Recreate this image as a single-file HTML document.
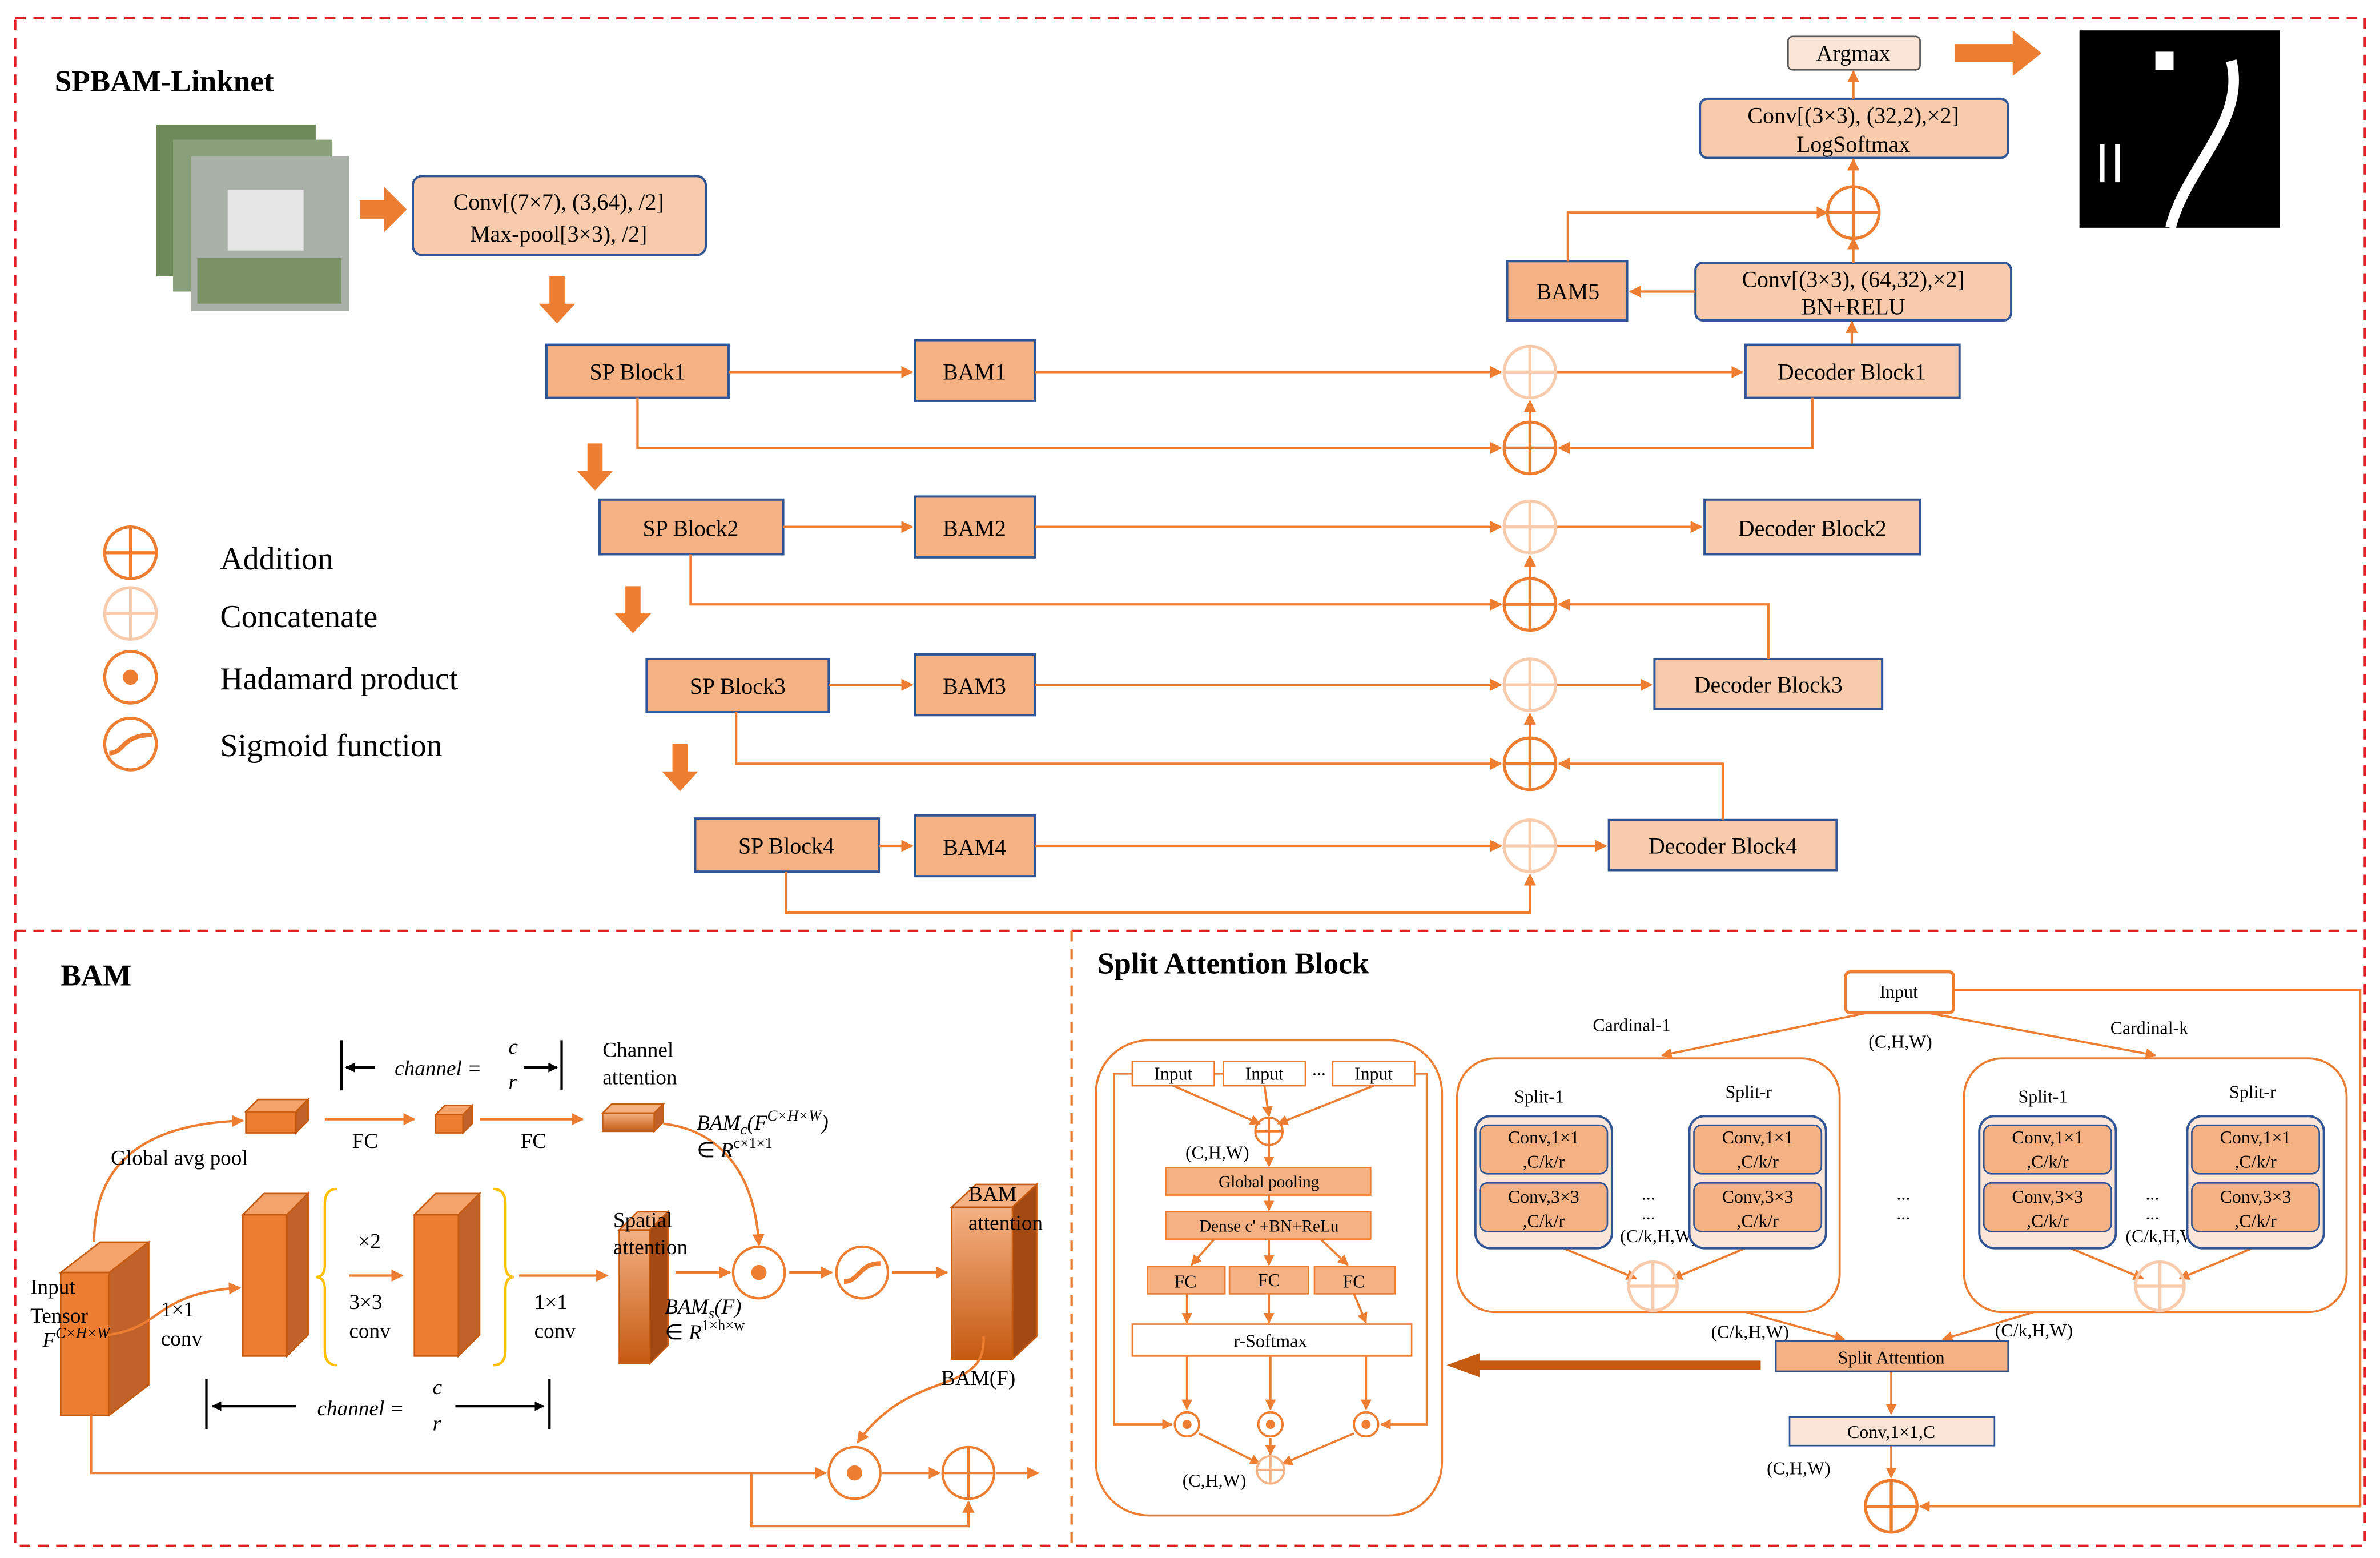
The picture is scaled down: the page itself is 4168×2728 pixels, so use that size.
<!DOCTYPE html>
<html><head><meta charset="utf-8"><style>
html,body{margin:0;padding:0;background:#fff;}
svg{display:block;}
text{font-family:"Liberation Serif",serif;fill:#000;}
</style></head><body>
<svg width="4168" height="2728" viewBox="0 0 1568 1026" preserveAspectRatio="none" xmlns="http://www.w3.org/2000/svg">
<defs>
<marker id="a" viewBox="0 0 10 10" refX="9" refY="5" markerWidth="5" markerHeight="5" orient="auto"><path d="M0,0 L10,5 L0,10 z" fill="#ed7d31"/></marker>
<marker id="k" viewBox="0 0 10 10" refX="9" refY="5" markerWidth="4" markerHeight="4" orient="auto"><path d="M0,0 L10,5 L0,10 z" fill="#000"/></marker>
<linearGradient id="g1" x1="0" y1="0" x2="0" y2="1"><stop offset="0" stop-color="#f4b183"/><stop offset="1" stop-color="#c55a11"/></linearGradient>
</defs>
<rect width="1568" height="1026" fill="#fff"/>
<!-- dashed frames -->
<g fill="none" stroke="#e02020" stroke-width="1.6" stroke-dasharray="7,5">
<rect x="10" y="12" width="1548" height="1006"/>
<line x1="10" y1="613" x2="1558" y2="613"/>
</g>
<line x1="706" y1="613" x2="706" y2="1018" stroke="#ed7d31" stroke-width="1.6" stroke-dasharray="7,5"/>

<text x="36" y="60" font-size="20" font-weight="bold">SPBAM-Linknet</text>
<!-- input images -->
<rect x="103" y="82" width="105" height="100" fill="#6f8a5a"/>
<rect x="114" y="92" width="105" height="100" fill="#8aa07a"/>
<rect x="126" y="103" width="104" height="102" fill="#a9b0a8"/>
<rect x="150" y="125" width="50" height="40" fill="#e6e6e6"/>
<rect x="130" y="170" width="95" height="30" fill="#7b9166"/>
<!-- big arrows -->
<path d="M237,132 h16 v-9 l15,15 l-15,15 v-9 h-16z" fill="#ed7d31"/>
<path d="M1288,29 h38 v-9 l19,15 l-19,15 v-9 h-38z" fill="#ed7d31"/>
<g fill="#ed7d31">
<path d="M362,182 h10 v18 h7 l-12,13 l-12,-13 h7z"/>
<path d="M387,292 h10 v18 h7 l-12,13 l-12,-13 h7z"/>
<path d="M412,386 h10 v18 h7 l-12,13 l-12,-13 h7z"/>
<path d="M443,490 h10 v18 h7 l-12,13 l-12,-13 h7z"/>
</g>
<!-- output -->
<rect x="1370" y="20" width="132" height="130" fill="#000"/>
<path d="M1470,40 C1480,80 1440,110 1430,150" stroke="#fff" stroke-width="7" fill="none"/>
<rect x="1420" y="34" width="12" height="12" fill="#fff"/>
<path d="M1385,95 v25 M1395,95 v25" stroke="#fff" stroke-width="3"/>

<g font-size="15" text-anchor="middle">
<rect x="272" y="116" width="193" height="52" rx="6" fill="#f8cbad" stroke="#2f5597" stroke-width="1.5"/>
<text x="368" y="138">Conv[(7×7), (3,64), /2]</text><text x="368" y="159">Max-pool[3×3), /2]</text>
<rect x="1120" y="65" width="203" height="39" rx="5" fill="#f8cbad" stroke="#2f5597" stroke-width="1.5"/>
<text x="1221" y="81">Conv[(3×3), (32,2),×2]</text><text x="1221" y="100">LogSoftmax</text>
<rect x="1178" y="24" width="87" height="22" rx="3" fill="#fbe5d6" stroke="#555" stroke-width="1"/>
<text x="1221" y="40">Argmax</text>
<rect x="1117" y="173" width="208" height="38" rx="5" fill="#f8cbad" stroke="#2f5597" stroke-width="1.5"/>
<text x="1221" y="189">Conv[(3×3), (64,32),×2]</text><text x="1221" y="207">BN+RELU</text>
<rect x="993" y="172" width="79" height="39" fill="#f4b183" stroke="#2f5597" stroke-width="1.5"/><text x="1033" y="197">BAM5</text>
</g>
<g fill="none" stroke="#ed7d31" stroke-width="1.6">
<line x1="1221" y1="65" x2="1221" y2="47" marker-end="url(#a)"/>
<line x1="1221" y1="123" x2="1221" y2="105" marker-end="url(#a)"/>
<line x1="1221" y1="173" x2="1221" y2="157" marker-end="url(#a)"/>
<polyline points="1033,172 1033,140 1204,140" marker-end="url(#a)"/>
<line x1="1117" y1="192" x2="1074" y2="192" marker-end="url(#a)"/>
<line x1="1220" y1="227" x2="1220" y2="212" marker-end="url(#a)"/>
<circle cx="1221" cy="140" r="17" stroke-width="2"/><path d="M1221,123 v34 M1204,140 h34" stroke-width="2"/>
</g>

<!-- main rows -->
<g font-size="15" text-anchor="middle" stroke-width="1.5">
<rect x="360" y="227" width="120" height="35" fill="#f4b183" stroke="#2f5597"/><text x="420" y="250">SP Block1</text>
<rect x="395" y="329" width="121" height="36" fill="#f4b183" stroke="#2f5597"/><text x="455" y="353">SP Block2</text>
<rect x="426" y="434" width="120" height="35" fill="#f4b183" stroke="#2f5597"/><text x="486" y="457">SP Block3</text>
<rect x="458" y="539" width="121" height="35" fill="#f4b183" stroke="#2f5597"/><text x="518" y="562">SP Block4</text>
<rect x="603" y="224" width="79" height="40" fill="#f4b183" stroke="#2f5597"/><text x="642" y="250">BAM1</text>
<rect x="603" y="327" width="79" height="40" fill="#f4b183" stroke="#2f5597"/><text x="642" y="353">BAM2</text>
<rect x="603" y="431" width="79" height="40" fill="#f4b183" stroke="#2f5597"/><text x="642" y="457">BAM3</text>
<rect x="603" y="537" width="79" height="40" fill="#f4b183" stroke="#2f5597"/><text x="642" y="563">BAM4</text>
<rect x="1150" y="227" width="141" height="35" fill="#f8cbad" stroke="#2f5597"/><text x="1220" y="250">Decoder Block1</text>
<rect x="1123" y="329" width="142" height="36" fill="#f8cbad" stroke="#2f5597"/><text x="1194" y="353">Decoder Block2</text>
<rect x="1090" y="434" width="150" height="33" fill="#f8cbad" stroke="#2f5597"/><text x="1165" y="456">Decoder Block3</text>
<rect x="1060" y="540" width="150" height="33" fill="#f8cbad" stroke="#2f5597"/><text x="1135" y="562">Decoder Block4</text>
</g>
<g fill="none" stroke="#ed7d31" stroke-width="1.6">
<line x1="480" y1="245" x2="601" y2="245" marker-end="url(#a)"/>
<line x1="516" y1="347" x2="601" y2="347" marker-end="url(#a)"/>
<line x1="546" y1="451" x2="601" y2="451" marker-end="url(#a)"/>
<line x1="579" y1="557" x2="601" y2="557" marker-end="url(#a)"/>
<line x1="682" y1="245" x2="989" y2="245" marker-end="url(#a)"/>
<line x1="682" y1="347" x2="989" y2="347" marker-end="url(#a)"/>
<line x1="682" y1="451" x2="989" y2="451" marker-end="url(#a)"/>
<line x1="682" y1="557" x2="989" y2="557" marker-end="url(#a)"/>
<line x1="1025" y1="245" x2="1148" y2="245" marker-end="url(#a)"/>
<line x1="1025" y1="347" x2="1121" y2="347" marker-end="url(#a)"/>
<line x1="1025" y1="451" x2="1088" y2="451" marker-end="url(#a)"/>
<line x1="1025" y1="557" x2="1058" y2="557" marker-end="url(#a)"/>
<polyline points="420,262 420,295 989,295" marker-end="url(#a)"/>
<polyline points="455,365 455,398 989,398" marker-end="url(#a)"/>
<polyline points="485,469 485,503 989,503" marker-end="url(#a)"/>
<polyline points="518,574 518,601 1008,601 1008,576" marker-end="url(#a)"/>
<polyline points="1194,262 1194,295 1027,295" marker-end="url(#a)"/>
<polyline points="1165,434 1165,398 1027,398" marker-end="url(#a)"/>
<polyline points="1135,540 1135,503 1027,503" marker-end="url(#a)"/>
<line x1="1008" y1="278" x2="1008" y2="264" marker-end="url(#a)"/>
<line x1="1008" y1="381" x2="1008" y2="366" marker-end="url(#a)"/>
<line x1="1008" y1="486" x2="1008" y2="470" marker-end="url(#a)"/>
<g stroke-width="2">
<circle cx="1008" cy="295" r="17"/><path d="M1008,278 v34 M991,295 h34"/>
<circle cx="1008" cy="398" r="17"/><path d="M1008,381 v34 M991,398 h34"/>
<circle cx="1008" cy="503" r="17"/><path d="M1008,486 v34 M991,503 h34"/>
</g>
<g stroke="#f8cbad" stroke-width="2">
<circle cx="1008" cy="245" r="17"/><path d="M1008,228 v34 M991,245 h34"/>
<circle cx="1008" cy="347" r="17"/><path d="M1008,330 v34 M991,347 h34"/>
<circle cx="1008" cy="451" r="17"/><path d="M1008,434 v34 M991,451 h34"/>
<circle cx="1008" cy="557" r="17"/><path d="M1008,540 v34 M991,557 h34"/>
</g>
</g>
<!-- legend -->
<g fill="none" stroke-width="2">
<circle cx="86" cy="364" r="17" stroke="#ed7d31"/><path d="M86,347 v34 M69,364 h34" stroke="#ed7d31"/>
<circle cx="86" cy="404" r="17" stroke="#f8cbad"/><path d="M86,387 v34 M69,404 h34" stroke="#f8cbad"/>
<circle cx="86" cy="446" r="17" stroke="#ed7d31"/><circle cx="86" cy="446" r="5" fill="#ed7d31" stroke="none"/>
<circle cx="86" cy="490" r="17" stroke="#ed7d31"/><path d="M72,496 C82,496 80,484 100,484" stroke="#ed7d31" stroke-width="3"/>
</g>
<g font-size="21"><text x="145" y="375">Addition</text><text x="145" y="413">Concatenate</text><text x="145" y="454">Hadamard product</text><text x="145" y="498">Sigmoid function</text></g>

<!-- BAM -->
<text x="40" y="649" font-size="20" font-weight="bold">BAM</text>
<g stroke="#c55a11" stroke-width="1">
<!-- input tensor -->
<polygon points="40,838 66,818 98,818 72,838" fill="#f4a36b"/><polygon points="72,838 98,818 98,912 72,932" fill="#c0622a"/><rect x="40" y="838" width="32" height="94" fill="#ed7d31"/>
<polygon points="162,732 170,724 203,724 195,732" fill="#f4a36b"/><polygon points="195,732 203,724 203,738 195,746" fill="#c0622a"/><rect x="162" y="732" width="33" height="14" fill="#ed7d31"/>
<polygon points="287,734 293,728 311,728 305,734" fill="#f4a36b"/><polygon points="305,734 311,728 311,740 305,746" fill="#c0622a"/><rect x="287" y="734" width="18" height="12" fill="#ed7d31"/>
<polygon points="397,733 403,727 437,727 431,733" fill="#f4b183"/><polygon points="431,733 437,727 437,739 431,745" fill="#c0622a"/><rect x="397" y="733" width="34" height="12" fill="url(#g1)"/>
<polygon points="160,800 174,786 203,786 189,800" fill="#f4a36b"/><polygon points="189,800 203,786 203,879 189,893" fill="#c0622a"/><rect x="160" y="800" width="29" height="93" fill="#ed7d31"/>
<polygon points="273,800 287,786 316,786 302,800" fill="#f4a36b"/><polygon points="302,800 316,786 316,879 302,893" fill="#c0622a"/><rect x="273" y="800" width="29" height="93" fill="#ed7d31"/>
<polygon points="408,810 420,798 440,798 428,810" fill="#f4b183"/><polygon points="428,810 440,798 440,886 428,898" fill="#a34a14"/><rect x="408" y="810" width="20" height="88" fill="url(#g1)"/>
<polygon points="627,795 643,780 683,780 667,795" fill="#f4b183"/><polygon points="667,795 683,780 683,880 667,895" fill="#a34a14"/><rect x="627" y="795" width="40" height="100" fill="url(#g1)"/>
</g>
<g fill="none" stroke="#ffc000" stroke-width="1.6">
<path d="M222,783 q-8,0 -8,10 v40 q0,8 -6,8 q6,0 6,8 v40 q0,10 8,10"/>
<path d="M325,783 q8,0 8,10 v40 q0,8 6,8 q-6,0 -6,8 v40 q0,10 -8,10"/>
</g>
<g fill="none" stroke="#ed7d31" stroke-width="1.6">
<path d="M62,818 C62,770 90,740 160,738" marker-end="url(#a)"/>
<path d="M56,880 C110,880 95,852 158,848" marker-end="url(#a)"/>
<line x1="214" y1="737" x2="273" y2="737" marker-end="url(#a)"/>
<line x1="316" y1="737" x2="384" y2="737" marker-end="url(#a)"/>
<line x1="230" y1="840" x2="265" y2="840" marker-end="url(#a)"/>
<line x1="342" y1="840" x2="400" y2="840" marker-end="url(#a)"/>
<path d="M437,740 C480,745 498,780 500,820" marker-end="url(#a)"/>
<line x1="445" y1="838" x2="481" y2="838" marker-end="url(#a)"/>
<line x1="520" y1="838" x2="548" y2="838" marker-end="url(#a)"/>
<line x1="588" y1="838" x2="624" y2="838" marker-end="url(#a)"/>
<circle cx="500" cy="838" r="17"/><circle cx="568" cy="838" r="17"/>
<path d="M556,844 C566,844 566,832 580,832" stroke-width="3"/>
<path d="M648,880 C650,920 600,900 565,950" marker-end="url(#a)"/>
<polyline points="60,932 60,970 544,970" marker-end="url(#a)"/>
<circle cx="563" cy="970" r="17"/><circle cx="638" cy="970" r="17"/><path d="M638,953 v34 M621,970 h34"/>
<line x1="581" y1="970" x2="619" y2="970" marker-end="url(#a)"/>
<line x1="656" y1="970" x2="684" y2="970" marker-end="url(#a)"/>
<polyline points="495,970 495,1005 638,1005 638,989" marker-end="url(#a)"/>
</g>
<circle cx="500" cy="838" r="5" fill="#ed7d31"/><circle cx="563" cy="970" r="5" fill="#ed7d31"/>
<g stroke="#000" stroke-width="1.6" fill="none">
<path d="M225,685 v33 M370,685 v33 M136,908 v33 M362,908 v33"/>
<line x1="247" y1="703" x2="228" y2="703" marker-end="url(#k)"/>
<line x1="345" y1="703" x2="367" y2="703" marker-end="url(#k)"/>
<line x1="195" y1="926" x2="140" y2="926" marker-end="url(#k)"/>
<line x1="300" y1="926" x2="358" y2="926" marker-end="url(#k)"/>
</g>
<g font-size="14">
<text x="260" y="708" font-style="italic">channel = </text><text x="335" y="694" font-style="italic">c</text><text x="335" y="717" font-style="italic">r</text>
<text x="209" y="932" font-style="italic">channel = </text><text x="285" y="918" font-style="italic">c</text><text x="285" y="942" font-style="italic">r</text>
<text x="397" y="696">Channel</text><text x="397" y="714">attention</text>
<text x="73" y="767">Global avg  pool</text>
<text x="232" y="756">FC</text><text x="343" y="756">FC</text>
<text x="236" y="822">×2</text><text x="230" y="862">3×3</text><text x="230" y="881">conv</text>
<text x="352" y="862">1×1</text><text x="352" y="881">conv</text>
<text x="106" y="867">1×1</text><text x="106" y="886">conv</text>
<text x="20" y="852">Input</text><text x="20" y="871">Tensor</text><text x="28" y="887" font-style="italic">F<tspan font-size="10" dy="-6">C×H×W</tspan></text>
<text x="404" y="808">Spatial</text><text x="404" y="826">attention</text>
<text x="459" y="744" font-style="italic">BAM<tspan font-size="10" dy="3">c</tspan><tspan dy="-3">(F</tspan><tspan font-size="10" dy="-6">C×H×W</tspan><tspan dy="6">)</tspan></text>
<text x="459" y="762">∈ <tspan font-style="italic">R</tspan><tspan font-size="10" dy="-6">c×1×1</tspan></text>
<text x="438" y="865" font-style="italic">BAM<tspan font-size="10" dy="3">s</tspan><tspan dy="-3">(F)</tspan></text>
<text x="438" y="882">∈ <tspan font-style="italic">R</tspan><tspan font-size="10" dy="-6">1×h×w</tspan></text>
<text x="638" y="791">BAM</text><text x="638" y="810">attention</text>
<text x="620" y="912">BAM(F)</text>
</g>

<!-- Split attention -->
<text x="723" y="641" font-size="20" font-weight="bold">Split Attention Block</text>
<g fill="none" stroke="#ed7d31" stroke-width="1.4">
<rect x="722" y="685" width="228" height="313" rx="35"/>
<rect x="960" y="697" width="252" height="167" rx="25"/>
<rect x="1294" y="697" width="252" height="167" rx="25"/>
<polyline points="1287,652 1555,652 1555,992 1265,992" marker-end="url(#a)"/>
<line x1="1230" y1="667" x2="1095" y2="695" marker-end="url(#a)"/>
<line x1="1270" y1="667" x2="1420" y2="695" marker-end="url(#a)"/>
<line x1="1150" y1="864" x2="1215" y2="882" marker-end="url(#a)"/>
<line x1="1340" y1="864" x2="1280" y2="882" marker-end="url(#a)"/>
<line x1="1246" y1="903" x2="1246" y2="931" marker-end="url(#a)"/>
<line x1="1246" y1="952" x2="1246" y2="973" marker-end="url(#a)"/>
<circle cx="1246" cy="992" r="17" stroke-width="2"/><path d="M1246,975 v34 M1229,992 h34" stroke-width="2"/>
<!-- left panel -->
<line x1="773" y1="715" x2="830" y2="740" marker-end="url(#a)"/>
<line x1="833" y1="715" x2="836" y2="735" marker-end="url(#a)"/>
<line x1="905" y1="715" x2="842" y2="740" marker-end="url(#a)"/>
<line x1="836" y1="754" x2="836" y2="768" marker-end="url(#a)"/>
<line x1="836" y1="787" x2="836" y2="797" marker-end="url(#a)"/>
<line x1="800" y1="816" x2="785" y2="833" marker-end="url(#a)"/>
<line x1="836" y1="816" x2="836" y2="833" marker-end="url(#a)"/>
<line x1="870" y1="816" x2="888" y2="833" marker-end="url(#a)"/>
<line x1="782" y1="852" x2="782" y2="871" marker-end="url(#a)"/>
<line x1="836" y1="852" x2="836" y2="871" marker-end="url(#a)"/>
<line x1="892" y1="852" x2="900" y2="871" marker-end="url(#a)"/>
<line x1="782" y1="893" x2="782" y2="928" marker-end="url(#a)"/>
<line x1="837" y1="893" x2="837" y2="928" marker-end="url(#a)"/>
<line x1="900" y1="893" x2="900" y2="928" marker-end="url(#a)"/>
<polyline points="746,707 734,707 734,938 772,938" marker-end="url(#a)"/>
<polyline points="932,707 940,707 940,938 910,938" marker-end="url(#a)"/>
<polyline points="806,707 798,707" />
<line x1="790" y1="944" x2="830" y2="964" marker-end="url(#a)"/>
<line x1="837" y1="947" x2="837" y2="958" marker-end="url(#a)"/>
<line x1="892" y1="944" x2="845" y2="964" marker-end="url(#a)"/>
<circle cx="836" cy="745" r="9"/><path d="M836,736 v18 M827,745 h18"/>
<circle cx="837" cy="968" r="9" stroke="#f4b183"/><path d="M837,959 v18 M828,968 h18" stroke="#f4b183"/>
<circle cx="782" cy="938" r="8"/><circle cx="837" cy="938" r="8"/><circle cx="900" cy="938" r="8"/>
<!-- cardinal split arrows -->
<line x1="1030" y1="822" x2="1078" y2="842" marker-end="url(#a)"/>
<line x1="1150" y1="822" x2="1102" y2="842" marker-end="url(#a)"/>
<line x1="1364" y1="822" x2="1412" y2="842" marker-end="url(#a)"/>
<line x1="1484" y1="822" x2="1436" y2="842" marker-end="url(#a)"/>
</g>
<g fill="#ed7d31"><circle cx="782" cy="938" r="3"/><circle cx="837" cy="938" r="3"/><circle cx="900" cy="938" r="3"/></g>
<path d="M1160,896 H975 v-5 l-22,8 l22,8 v-5 H1160z" fill="#c55a11"/>
<g fill="none" stroke="#f8cbad" stroke-width="2">
<circle cx="1089" cy="847" r="16"/><path d="M1089,831 v32 M1073,847 h32"/>
<circle cx="1423" cy="847" r="16"/><path d="M1423,831 v32 M1407,847 h32"/>
</g>
<g font-size="12" text-anchor="middle">
<rect x="1216" y="640" width="71" height="27" rx="3" fill="#fff" stroke="#ed7d31" stroke-width="2"/><text x="1251" y="657">Input</text>
<rect x="746" y="699" width="54" height="16" fill="#fff" stroke="#ed7d31"/><text x="773" y="711">Input</text>
<rect x="806" y="699" width="54" height="16" fill="#fff" stroke="#ed7d31"/><text x="833" y="711">Input</text>
<rect x="878" y="699" width="54" height="16" fill="#fff" stroke="#ed7d31"/><text x="905" y="711">Input</text>
<text x="869" y="708">...</text>
<text x="802" y="763">(C,H,W)</text>
<rect x="768" y="769" width="135" height="18" fill="#f4b183" stroke="#ed7d31"/><text x="836" y="782" font-size="11">Global pooling</text>
<rect x="768" y="798" width="135" height="18" fill="#f4b183" stroke="#ed7d31"/><text x="836" y="811" font-size="11">Dense c' +BN+ReLu</text>
<rect x="756" y="834" width="51" height="18" fill="#f4b183" stroke="#ed7d31"/><text x="781" y="848">FC</text>
<rect x="810" y="834" width="52" height="18" fill="#f4b183" stroke="#ed7d31"/><text x="836" y="847">FC</text>
<rect x="866" y="834" width="53" height="18" fill="#f4b183" stroke="#ed7d31"/><text x="892" y="848">FC</text>
<rect x="746" y="872" width="184" height="21" fill="#fff" stroke="#ed7d31"/><text x="837" y="887">r-Softmax</text>
<text x="800" y="979">(C,H,W)</text>
<text x="1075" y="679">Cardinal-1</text><text x="1416" y="681">Cardinal-k</text>
<text x="1252" y="690">(C,H,W)</text>
<text x="1014" y="726">Split-1</text><text x="1152" y="723">Split-r</text>
<text x="1346" y="726">Split-1</text><text x="1484" y="723">Split-r</text>
<text x="1086" y="790">...</text><text x="1086" y="803">...</text>
<text x="1254" y="790">...</text><text x="1254" y="803">...</text>
<text x="1418" y="790">...</text><text x="1418" y="803">...</text>
<text x="1093" y="818">(C/k,H,W)</text><text x="1426" y="818">(C/k,H,W)</text>
<text x="1153" y="881">(C/k,H,W)</text><text x="1340" y="880">(C/k,H,W)</text>
<rect x="1170" y="883" width="153" height="20" fill="#f4b183" stroke="#2f5597"/><text x="1246" y="898">Split  Attention</text>
<rect x="1179" y="933" width="135" height="19" fill="#fbe5d6" stroke="#2f5597"/><text x="1246" y="947">Conv,1×1,C</text>
<text x="1185" y="971">(C,H,W)</text>
</g>
<g font-size="12" text-anchor="middle">
<g>
<rect x="972" y="735" width="90" height="87" rx="10" fill="#fbe5d6" stroke="#2f5597" stroke-width="1.5"/>
<rect x="975" y="741" width="84" height="32" rx="5" fill="#f4b183" stroke="#2f5597"/><text x="1017" y="753">Conv,1×1</text><text x="1017" y="769">,C/k/r</text>
<rect x="975" y="779" width="84" height="32" rx="5" fill="#f4b183" stroke="#2f5597"/><text x="1017" y="792">Conv,3×3</text><text x="1017" y="808">,C/k/r</text>
</g>
<g transform="translate(141,0)">
<rect x="972" y="735" width="90" height="87" rx="10" fill="#fbe5d6" stroke="#2f5597" stroke-width="1.5"/>
<rect x="975" y="741" width="84" height="32" rx="5" fill="#f4b183" stroke="#2f5597"/><text x="1017" y="753">Conv,1×1</text><text x="1017" y="769">,C/k/r</text>
<rect x="975" y="779" width="84" height="32" rx="5" fill="#f4b183" stroke="#2f5597"/><text x="1017" y="792">Conv,3×3</text><text x="1017" y="808">,C/k/r</text>
</g>
<g transform="translate(332,0)">
<rect x="972" y="735" width="90" height="87" rx="10" fill="#fbe5d6" stroke="#2f5597" stroke-width="1.5"/>
<rect x="975" y="741" width="84" height="32" rx="5" fill="#f4b183" stroke="#2f5597"/><text x="1017" y="753">Conv,1×1</text><text x="1017" y="769">,C/k/r</text>
<rect x="975" y="779" width="84" height="32" rx="5" fill="#f4b183" stroke="#2f5597"/><text x="1017" y="792">Conv,3×3</text><text x="1017" y="808">,C/k/r</text>
</g>
<g transform="translate(469,0)">
<rect x="972" y="735" width="90" height="87" rx="10" fill="#fbe5d6" stroke="#2f5597" stroke-width="1.5"/>
<rect x="975" y="741" width="84" height="32" rx="5" fill="#f4b183" stroke="#2f5597"/><text x="1017" y="753">Conv,1×1</text><text x="1017" y="769">,C/k/r</text>
<rect x="975" y="779" width="84" height="32" rx="5" fill="#f4b183" stroke="#2f5597"/><text x="1017" y="792">Conv,3×3</text><text x="1017" y="808">,C/k/r</text>
</g>
</g>
</svg>
</body></html>
